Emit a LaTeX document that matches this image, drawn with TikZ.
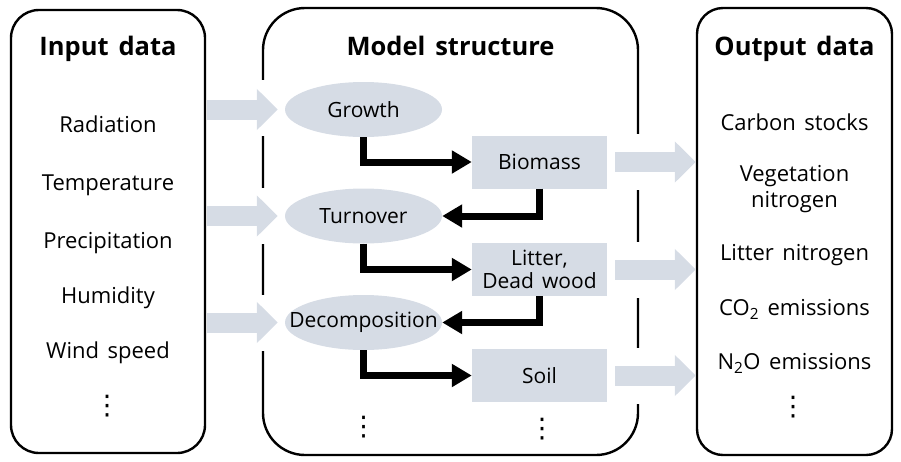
\documentclass[tikz,border=0pt]{standalone}
\usepackage{fontspec}
\setmainfont{Open Sans}[WordSpace=1.5]
\newfontfamily\djv{DejaVu Sans}
\usetikzlibrary{arrows.meta,shapes.geometric}
\definecolor{paleblue}{HTML}{D6DCE5}
\newcommand\mydots{{\djv\fontsize{27}{27}\selectfont ⋮}}
\begin{document}
\begin{tikzpicture}[x=1pt,y=-1pt,
  panel/.style={draw=black,line width=2.4pt,inner sep=0pt,minimum height=447pt},
  ttl/.style={font=\fontsize{25.5}{30}\selectfont\bfseries,anchor=base},
  itm/.style={font=\fontsize{22}{22}\selectfont,anchor=base,align=center},
  proc/.style={ellipse,fill=paleblue,minimum width=157pt,minimum height=55pt,inner sep=0pt,font=\fontsize{21}{24}\selectfont},
  pool/.style={rectangle,fill=paleblue,minimum width=135pt,minimum height=53pt,inner sep=0pt,font=\fontsize{21}{23}\selectfont,align=center},
  flow/.style={line width=7pt,line join=miter,-{Triangle[length=20pt,width=22pt]}},
  fat/.style={paleblue,line width=20pt,-{Triangle[length=21pt,width=40pt]}},
  dts/.style={anchor=center,inner sep=0pt}
]
\useasboundingbox (0,0) rectangle (901,461);
% panels
\node[panel,rounded corners=28pt,minimum width=194pt,minimum height=443pt] (inbox) at (108,231.5) {};
\node[panel,rounded corners=42pt,minimum width=375pt] (midbox) at (450.5,231.5) {};
\node[panel,rounded corners=26pt,minimum width=195pt] (outbox) at (794.5,231.5) {};
% titles
\node[ttl] (tin) at (108,55) {Input data};
\node[ttl] (tmid) at (450.5,55) {Model structure};
\node[ttl] (tout) at (794.5,55) {Output data};
% input items
\node[itm] (i1) at (108,132) {Radiation};
\node[itm] (i2) at (108,190) {Temperature};
\node[itm] (i3) at (108,248) {Precipitation};
\node[itm] (i4) at (108,303) {Humidity};
\node[itm] (i5) at (108,358) {Wind speed};
\node[dts] (i6) at (107,406) {\mydots};
% output items
\node[itm] (o1) at (794.5,130) {Carbon stocks};
\node[itm,anchor=center,font=\fontsize{22}{26}\selectfont] (o2) at (794.5,189) {Vegetation\\nitrogen};
\node[itm] (o3) at (794.5,260) {Litter nitrogen};
\node[itm] (o4) at (794.5,315) {CO\textsubscript{2} emissions};
\node[itm] (o5) at (794.5,369) {N\textsubscript{2}O emissions};
\node[dts] (o6) at (793,407) {\mydots};
% model nodes
\node[proc] (growth) at (363.5,109.5) {Growth};
\node[proc] (turn) at (363.5,216) {Turnover};
\node[proc] (decomp) at (363.5,322.5) {\makebox[0pt]{Decomposition}};
\node[pool] (bio) at (539.5,162) {Biomass};
\node[pool] (litter) at (539.5,269.5) {Litter,\\Dead wood};
\node[pool] (soil) at (539.5,375.5) {Soil};
\node[dts] (m1) at (363.5,427) {\mydots};
\node[dts] (m2) at (542,429) {\mydots};
% gaps in middle panel border
\foreach \y in {108,216,323}{\fill[white] (258,\y-28) rectangle (268,\y+28);}
\foreach \y in {162,270,376}{\fill[white] (633,\y-28) rectangle (643,\y+28);}
% fat arrows
\draw[fat,shorten >=7pt] (inbox.east |- growth.west) ++(1,0) -- (growth.west);
\draw[fat,shorten >=7pt] (inbox.east |- turn.west) ++(1,0) -- (turn.west);
\draw[fat,shorten >=7pt] (inbox.east |- decomp.west) ++(1,0) -- (decomp.west);
\draw[fat,shorten <=8pt] (bio.east) -- (outbox.west |- bio.east);
\draw[fat,shorten <=8pt] (litter.east) -- (outbox.west |- litter.east);
\draw[fat,shorten <=8pt] (soil.east) -- (outbox.west |- soil.east);
% black flows
\draw[flow] (growth.south) |- (bio.west);
\draw[flow] (bio.south) |- (turn.east);
\draw[flow] (turn.south) |- (litter.west);
\draw[flow] (litter.south) |- (decomp.east);
\draw[flow] (decomp.south) |- (soil.west);
\end{tikzpicture}
\end{document}
